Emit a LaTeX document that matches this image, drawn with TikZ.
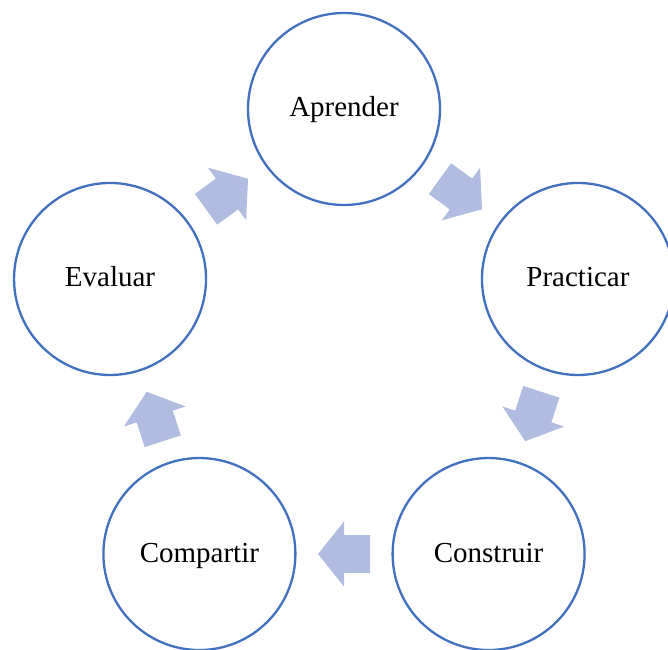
\documentclass[tikz,border=0pt]{standalone}
\usepackage{fontspec}
\setmainfont{Liberation Serif}
\usetikzlibrary{calc}
\definecolor{ringblue}{HTML}{4170BF}
\definecolor{arrowfill}{HTML}{B0BDE1}
\begin{document}
\begin{tikzpicture}[x=1pt,y=1pt,
  stage/.style={circle,draw=ringblue,line width=2.3pt,fill=white,minimum size=192pt,inner sep=0pt,text height=22pt,text depth=6pt,font=\fontsize{29}{34}\selectfont},
  blockarrow/.style={fill=arrowfill,draw=none}]
\clip (0,0) rectangle (668,649);
\useasboundingbox (0,0) rectangle (668,649);
\coordinate (ctr) at (344,294);
\node[stage] (apr) at ($(ctr)+(90:246)$) {Aprender};
\node[stage] (pra) at ($(ctr)+(18:246)$) {Practicar};
\node[stage] (con) at ($(ctr)+(-54:246)$) {Construir};
\node[stage] (com) at ($(ctr)+(-126:246)$) {Compartir};
\node[stage] (eva) at ($(ctr)+(162:246)$) {Evaluar};
\foreach \a/\b/\r in {apr/pra/-36, pra/con/-108, con/com/-180, com/eva/-252, eva/apr/36}{
  \begin{scope}[shift={($(\a)!0.5!(\b)$)}, rotate=\r]
    \fill[blockarrow] (26,0) -- (0,32.5) -- (0,19) -- (-26,19) -- (-26,-19) -- (0,-19) -- (0,-32.5) -- cycle;
  \end{scope}
}
\end{tikzpicture}
\end{document}
